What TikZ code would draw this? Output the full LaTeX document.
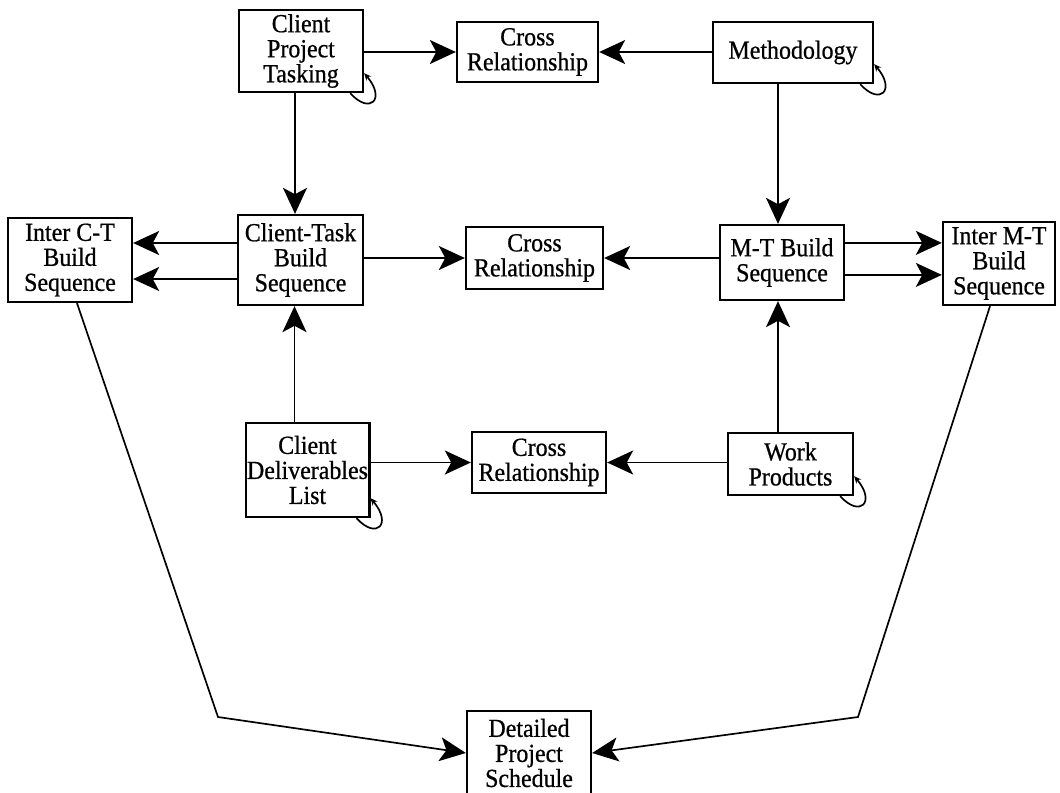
\documentclass[tikz,border=0pt]{standalone}
\usepackage{fontspec}
\setmainfont[FakeStretch=0.92, FakeBold=0.7]{Liberation Serif}
\usetikzlibrary{arrows.meta}

\tikzset{
  box/.style={draw, line width=1.6pt, fill=white, inner sep=1pt, align=center,
              font=\fontsize{18.5}{17.8}\selectfont},
  arr/.style={line width=1.2pt, -{Stealth[length=0.65cm, width=0.6cm, inset=0.16cm]}},
  selfloop/.style={line width=1.2pt, -{Stealth[length=0.18cm, width=0.16cm]}}
}

\begin{document}
\begin{tikzpicture}[x=0.025cm, y=-0.025cm]
\useasboundingbox (0,0) rectangle (1060,792);

% top row
\node[box, minimum width=3.1cm,   minimum height=2.05cm]  (cpt)  at (301,51)    {Client\\Project\\Tasking};
\node[box, minimum width=3.525cm, minimum height=1.5cm]   (cr1)  at (527.5,52)  {Cross\\Relationship};
\node[box, minimum width=4.0cm,   minimum height=1.525cm] (meth) at (793,52.5)  {Methodology};

% middle row
\node[box, minimum width=3.1cm,   minimum height=2.1cm]   (ict)  at (70,260)    {Inter C-T\\Build\\Sequence};
\node[box, minimum width=3.125cm, minimum height=2.25cm]  (cts)  at (300.5,260) {Client-Task\\Build\\Sequence};
\node[box, minimum width=3.425cm, minimum height=1.55cm]  (cr2)  at (534.5,258) {Cross\\Relationship};
\node[box, minimum width=3.1cm,   minimum height=1.875cm] (mt)   at (782,262.5) {M-T Build\\Sequence};
\node[box, minimum width=2.8cm,   minimum height=2.075cm] (imt)  at (999,263.5) {Inter M-T\\Build\\Sequence};

% lower row
\node[box, minimum width=3.075cm, minimum height=2.35cm]  (cdl)  at (307.5,470) {Client\\Deliverables\\List};
\node[box, minimum width=3.35cm,  minimum height=1.525cm] (cr3)  at (539,462.5) {Cross\\Relationship};
\node[box, minimum width=3.125cm, minimum height=1.55cm]  (wp)   at (790.5,464) {Work\\Products};

% schedule
\node[box, minimum width=3.1cm,   minimum height=2.1cm]   (dps)  at (529,753)   {Detailed\\Project\\Schedule};

% bend points of the long connectors
\coordinate (bendL) at (218,717);
\coordinate (bendR) at (858,717);

% top row connectors
\draw[arr] (cpt.east |- cr1.west) -- (cr1.west);
\draw[arr] (meth.west |- cr1.east) -- (cr1.east);
\draw[arr] ([xshift=-0.15cm]cpt.south) -- ([xshift=-0.15cm]cpt.south |- cts.north);
\draw[arr] ([xshift=-0.1cm]meth.south -| mt.north) -- ([xshift=-0.1cm]mt.north);

% middle row connectors
\draw[arr] ([yshift=0.425cm]cts.west) -- ([yshift=0.425cm]cts.west -| ict.east);
\draw[arr] ([yshift=-0.475cm]cts.west) -- ([yshift=-0.475cm]cts.west -| ict.east);
\draw[arr] (cts.east |- cr2.west) -- (cr2.west);
\draw[arr] (mt.west |- cr2.east) -- (cr2.east);
\draw[arr] ([yshift=0.49cm]mt.east) -- ([yshift=0.49cm]mt.east -| imt.west);
\draw[arr] ([yshift=-0.31cm]mt.east) -- ([yshift=-0.31cm]mt.east -| imt.west);

% lower row connectors
\draw[arr] ([xshift=-0.15cm]cdl.north -| cts.south) -- ([xshift=-0.15cm]cts.south);
\draw[arr] ([xshift=-0.1cm]wp.north -| mt.south) -- ([xshift=-0.1cm]mt.south);
\draw[arr] (cdl.east |- cr3.west) -- (cr3.west);
\draw[arr] (wp.west |- cr3.east) -- (cr3.east);

% connectors down to the schedule
\draw[arr] ([xshift=0.175cm]ict.south) -- (bendL) -- (dps.west);
\draw[arr] ([xshift=-0.225cm]imt.south) -- (bendR) -- (dps.east);

% self loops
\foreach \n in {cpt, meth, cdl, wp}{
  \draw[selfloop] ([xshift=-0.35cm]\n.south east)
      .. controls +(0.5cm,-0.55cm) and +(0.55cm,-0.65cm) .. ([yshift=0.5cm]\n.south east);
}
\end{tikzpicture}
\end{document}
